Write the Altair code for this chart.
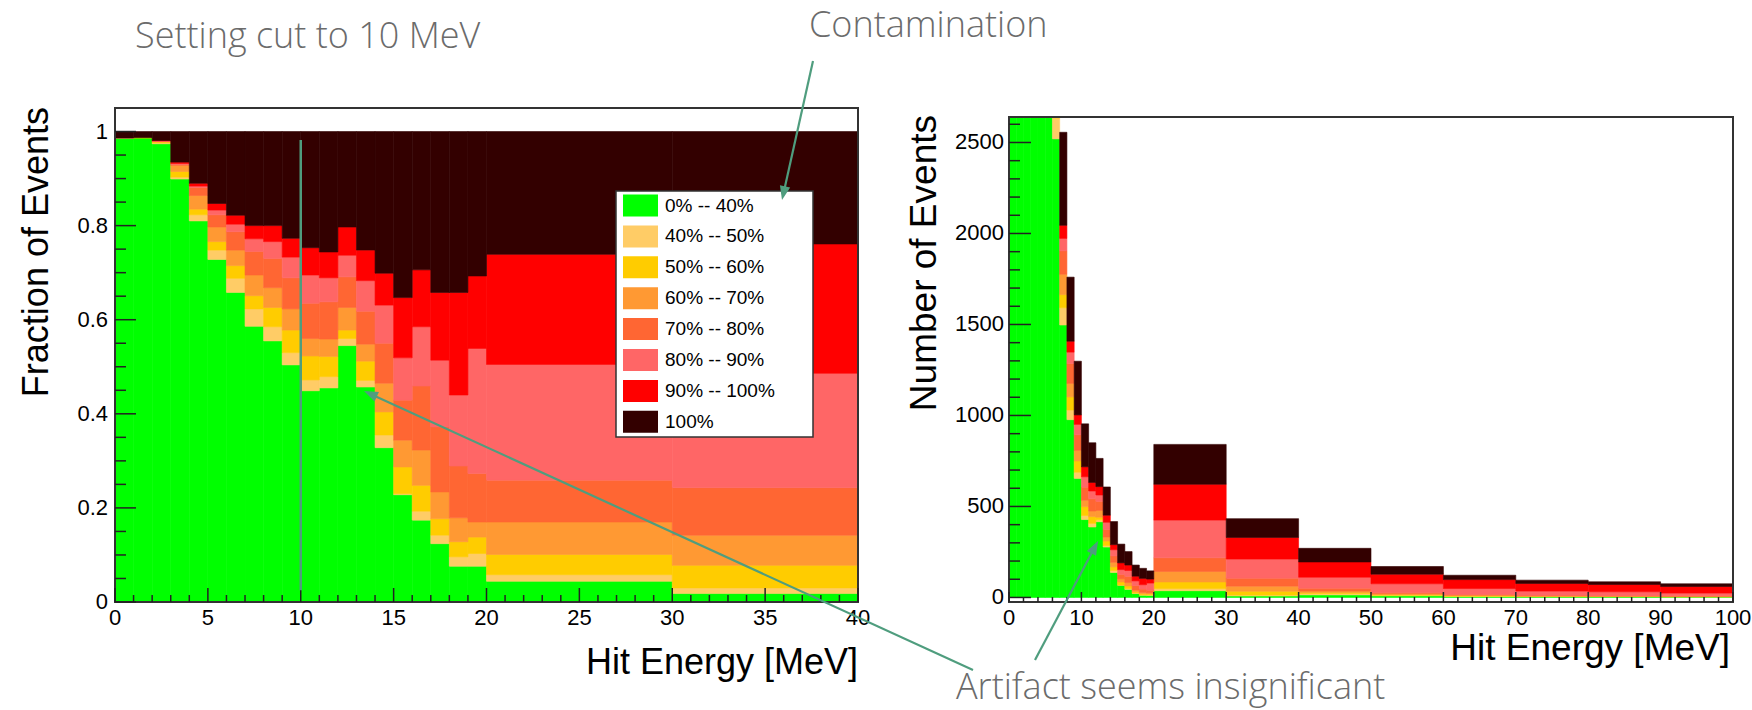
import altair as alt
import numpy as np
import pandas as pd

# Purity classes of the events and their fill colours (bottom of the stack first)
CATEGORIES = ["0% -- 40%", "40% -- 50%", "50% -- 60%", "60% -- 70%",
              "70% -- 80%", "80% -- 90%", "90% -- 100%", "100%"]
COLORS = ["#00ff00", "#ffcc66", "#ffcc00", "#ff9933",
          "#ff6633", "#ff6666", "#ff0000", "#330000"]

# ---------------- left: fraction of events per hit-energy bin ----------------
FRAC_EDGES = [0, 1, 2, 3, 4, 5, 6, 7, 8, 9, 10, 11, 12, 13, 14, 15, 16, 17, 18, 19, 20, 30, 40]
frac_p0_40 = [0.985, 0.986, 0.974, 0.899, 0.810, 0.728, 0.658, 0.586, 0.555, 0.504, 0.449,
              0.455, 0.545, 0.457, 0.328, 0.228, 0.174, 0.124, 0.076, 0.076, 0.044, 0.018]
frac_p40_50 = [0.001, 0.000, 0.002, 0.004, 0.013, 0.020, 0.030, 0.037, 0.030, 0.026, 0.023,
               0.024, 0.015, 0.014, 0.027, 0.002, 0.019, 0.018, 0.020, 0.027, 0.014, 0.012]
frac_p50_60 = [0.000, 0.001, 0.002, 0.012, 0.012, 0.018, 0.027, 0.028, 0.041, 0.048, 0.051,
               0.043, 0.018, 0.041, 0.049, 0.057, 0.055, 0.035, 0.032, 0.035, 0.043, 0.048]
frac_p60_70 = [0.000, 0.000, 0.001, 0.013, 0.029, 0.031, 0.033, 0.044, 0.042, 0.045, 0.037,
               0.037, 0.048, 0.036, 0.061, 0.057, 0.075, 0.057, 0.051, 0.032, 0.069, 0.064]
frac_p70_80 = [0.000, 0.000, 0.000, 0.002, 0.017, 0.026, 0.039, 0.050, 0.062, 0.066, 0.075,
               0.079, 0.065, 0.070, 0.085, 0.085, 0.136, 0.138, 0.110, 0.103, 0.089, 0.101]
frac_p80_90 = [0.000, 0.000, 0.001, 0.002, 0.003, 0.010, 0.016, 0.027, 0.036, 0.044, 0.060,
               0.051, 0.046, 0.065, 0.081, 0.090, 0.126, 0.142, 0.151, 0.266, 0.246, 0.243]
frac_p90_100 = [0.000, 0.000, 0.001, 0.003, 0.006, 0.014, 0.019, 0.028, 0.034, 0.040, 0.058,
                0.055, 0.060, 0.065, 0.068, 0.128, 0.121, 0.144, 0.218, 0.154, 0.234, 0.275]
frac_p100 = [0.014, 0.013, 0.019, 0.065, 0.110, 0.153, 0.178, 0.200, 0.200, 0.227, 0.247,
             0.256, 0.203, 0.252, 0.301, 0.353, 0.294, 0.342, 0.342, 0.307, 0.261, 0.239]

# ---------------- right: number of events per hit-energy bin ----------------
COUNT_EDGES = [0, 1, 2, 3, 4, 5, 6, 7, 8, 9, 10, 11, 12, 13, 14, 15, 16, 17, 18, 19, 20,
               30, 40, 50, 60, 70, 80, 90, 100]
cnt_p0_40 = [6698, 7099, 6818, 5754, 4536, 3422, 2520, 1497, 977, 654, 428, 387, 416, 277,
             137, 67, 44, 22, 12, 11, 37, 8, 14, 9, 5, 4, 4, 3]
cnt_p40_50 = [7, 0, 14, 26, 73, 94, 115, 95, 53, 34, 22, 20, 11, 8,
              11, 1, 5, 3, 3, 4, 12, 5, 8, 3, 2, 1, 1, 1]
cnt_p50_60 = [0, 7, 14, 77, 67, 85, 103, 72, 72, 62, 49, 37, 14, 25,
              20, 17, 14, 6, 5, 5, 36, 21, 5, 4, 3, 2, 1, 1]
cnt_p60_70 = [0, 0, 7, 83, 162, 146, 126, 112, 74, 58, 35, 31, 37, 22,
              25, 17, 19, 10, 8, 5, 58, 28, 9, 4, 3, 2, 2, 2]
cnt_p70_80 = [0, 0, 0, 13, 95, 122, 149, 128, 109, 86, 72, 67, 50, 42,
              35, 25, 34, 25, 18, 15, 75, 44, 15, 7, 3, 3, 2, 2]
cnt_p80_90 = [0, 0, 7, 13, 17, 47, 61, 69, 63, 57, 57, 43, 35, 39,
              34, 26, 32, 25, 24, 39, 207, 105, 60, 48, 33, 23, 21, 15]
cnt_p90_100 = [0, 0, 7, 19, 34, 66, 73, 72, 60, 52, 55, 47, 46, 39,
               28, 37, 30, 26, 35, 22, 197, 119, 84, 53, 49, 42, 40, 36]
cnt_p100 = [95, 94, 133, 416, 616, 719, 682, 511, 352, 295, 236, 218, 155, 155,
            127, 103, 74, 61, 55, 45, 219, 103, 75, 42, 24, 18, 15, 15]

CUT_MEV = 10

# axis tick positions and labels
LEFT_X_MAJOR = [0, 5, 10, 15, 20, 25, 30, 35, 40]
LEFT_X_MINOR = [v for v in range(0, 41) if v % 5]
LEFT_Y_MAJOR = [0, 0.2, 0.4, 0.6, 0.8, 1.0]
LEFT_Y_LABELS = ["0", "0.2", "0.4", "0.6", "0.8", "1"]
LEFT_Y_MINOR = [0.05, 0.1, 0.15, 0.25, 0.3, 0.35, 0.45, 0.5, 0.55, 0.65, 0.7, 0.75, 0.85, 0.9, 0.95]
RIGHT_X_MAJOR = [0, 10, 20, 30, 40, 50, 60, 70, 80, 90, 100]
RIGHT_X_MINOR = [v for v in range(0, 101, 2) if v % 10]
RIGHT_Y_MAJOR = [0, 500, 1000, 1500, 2000, 2500]
RIGHT_Y_MINOR = [v for v in range(0, 2601, 100) if v % 500]

# axis extents
LEFT_X_DOMAIN, LEFT_Y_DOMAIN = [0, 40], [0, 1.05]
RIGHT_X_DOMAIN, RIGHT_Y_DOMAIN = [0, 100], [-25, 2640]

# page geometry of the two frames (pixels)
LEFT_X_RANGE, LEFT_Y_RANGE = [115, 858], [602, 108]
RIGHT_X_RANGE, RIGHT_Y_RANGE = [1009, 1733], [602, 117]
W, H = 1752, 710

FONT = "Liberation Sans"
NOTE_FONT = "Open Sans"
NOTE_COLOR = "#6b6b6b"
ARROW_COLOR = "#4f9d7e"
INK = "#222222"


def long_table(edges, series):
    rows = []
    for order, (cat, values) in enumerate(zip(CATEGORIES, series)):
        for i, v in enumerate(values):
            if v > 0:
                rows.append({"lo": edges[i], "hi": edges[i + 1],
                             "category": cat, "order": order, "value": v})
    return pd.DataFrame(rows)


frac_df = long_table(FRAC_EDGES, [frac_p0_40, frac_p40_50, frac_p50_60, frac_p60_70,
                                  frac_p70_80, frac_p80_90, frac_p90_100, frac_p100])
cnt_df = long_table(COUNT_EDGES, [cnt_p0_40, cnt_p40_50, cnt_p50_60, cnt_p60_70,
                                  cnt_p70_80, cnt_p80_90, cnt_p90_100, cnt_p100])

color_scale = alt.Scale(domain=CATEGORIES, range=COLORS)
lx = alt.Scale(domain=LEFT_X_DOMAIN, range=LEFT_X_RANGE, nice=False, zero=False)
ly = alt.Scale(domain=LEFT_Y_DOMAIN, range=LEFT_Y_RANGE, nice=False, zero=False)
rx = alt.Scale(domain=RIGHT_X_DOMAIN, range=RIGHT_X_RANGE, nice=False, zero=False)
ry = alt.Scale(domain=RIGHT_Y_DOMAIN, range=RIGHT_Y_RANGE, nice=False, zero=False, clamp=True)


def stacked(df, xs, ys):
    return (
        alt.Chart(df)
        .transform_stack(stack="value", groupby=["lo"], as_=["y0", "y1"],
                         sort=[alt.SortField("order", order="ascending")])
        .mark_rect(strokeWidth=0.6)
        .encode(
            x=alt.X("lo:Q", scale=xs, axis=None),
            x2="hi:Q",
            y=alt.Y("y0:Q", scale=ys, axis=None),
            y2="y1:Q",
            color=alt.Color("category:N", scale=color_scale, legend=None),
            stroke=alt.Stroke("category:N", scale=color_scale, legend=None),
        )
    )


def frame(xs, ys, x_dom, y_dom):
    box = pd.DataFrame({"x0": [x_dom[0]], "x1": [x_dom[1]], "y0": [y_dom[0]], "y1": [y_dom[1]]})
    return alt.Chart(box).mark_rect(fill="transparent", stroke="#333333", strokeWidth=2).encode(
        x=alt.X("x0:Q", scale=xs, axis=None), x2="x1:Q",
        y=alt.Y("y0:Q", scale=ys, axis=None), y2="y1:Q")


def x_ticks(values, xs, base, length):
    return alt.Chart(pd.DataFrame({"v": values})).mark_rule(color=INK, strokeWidth=1.5).encode(
        x=alt.X("v:Q", scale=xs, axis=None), y=alt.value(base), y2=alt.value(base - length))


def y_ticks(values, ys, base, length):
    return alt.Chart(pd.DataFrame({"v": values})).mark_rule(color=INK, strokeWidth=1.5).encode(
        y=alt.Y("v:Q", scale=ys, axis=None), x=alt.value(base), x2=alt.value(base + length))


def x_labels(values, xs, baseline_y):
    df = pd.DataFrame({"v": values, "label": [f"{v:g}" for v in values]})
    return alt.Chart(df).mark_text(align="center", baseline="alphabetic", font=FONT,
                                   fontSize=22, color="black").encode(
        x=alt.X("v:Q", scale=xs, axis=None), y=alt.value(baseline_y), text="label:N")


def y_labels(values, labels, ys, right_x):
    df = pd.DataFrame({"v": values, "label": labels})
    return alt.Chart(df).mark_text(align="right", baseline="middle", font=FONT,
                                   fontSize=22, color="black").encode(
        y=alt.Y("v:Q", scale=ys, axis=None), x=alt.value(right_x), text="label:N")


# ---------------- left panel ----------------
cut_line = alt.Chart(pd.DataFrame({"x": [CUT_MEV], "y0": [0.025], "y1": [0.982]})).mark_rule(
    color=ARROW_COLOR, strokeWidth=2.5).encode(
    x=alt.X("x:Q", scale=lx, axis=None), y=alt.Y("y0:Q", scale=ly, axis=None), y2="y1:Q")

left_panel = alt.layer(
    stacked(frac_df, lx, ly),
    frame(lx, ly, LEFT_X_DOMAIN, LEFT_Y_DOMAIN),
    x_ticks(LEFT_X_MAJOR, lx, LEFT_Y_RANGE[0], 14),
    x_ticks(LEFT_X_MINOR, lx, LEFT_Y_RANGE[0], 7),
    y_ticks(LEFT_Y_MAJOR, ly, LEFT_X_RANGE[0], 21),
    y_ticks(LEFT_Y_MINOR, ly, LEFT_X_RANGE[0], 11),
    x_labels(LEFT_X_MAJOR, lx, 625),
    y_labels(LEFT_Y_MAJOR, LEFT_Y_LABELS, ly, 108),
    cut_line,
)

# ---------------- right panel ----------------
right_panel = alt.layer(
    stacked(cnt_df, rx, ry),
    frame(rx, ry, RIGHT_X_DOMAIN, RIGHT_Y_DOMAIN),
    x_ticks(RIGHT_X_MAJOR, rx, RIGHT_Y_RANGE[0], 10),
    x_ticks(RIGHT_X_MINOR, rx, RIGHT_Y_RANGE[0], 5),
    y_ticks(RIGHT_Y_MAJOR, ry, RIGHT_X_RANGE[0], 22),
    y_ticks(RIGHT_Y_MINOR, ry, RIGHT_X_RANGE[0], 11),
    x_labels(RIGHT_X_MAJOR, rx, 625),
    y_labels(RIGHT_Y_MAJOR, [str(v) for v in RIGHT_Y_MAJOR], ry, 1004),
)

# ---------------- axis titles ----------------
titles = pd.DataFrame({
    "text": ["Hit Energy [MeV]", "Hit Energy [MeV]", "Fraction of Events", "Number of Events"],
    "x": [858, 1730, 48, 936],
    "y": [674, 660, 107, 115],
    "angle": [0, 0, 270, 270],
    "size": [36, 37, 36, 37],
})
axis_titles = alt.Chart(titles).mark_text(
    align="right", baseline="alphabetic", font=FONT, color="black").encode(
    x=alt.X("x:Q", scale=None), y=alt.Y("y:Q", scale=None), text="text:N",
    angle=alt.Angle("angle:Q", scale=None), size=alt.Size("size:Q", scale=None))

# ---------------- legend box (pixel layout) ----------------
LEG_LEFT, LEG_TOP, LEG_RIGHT, LEG_BOTTOM = 616, 191, 813, 437
ROW0, ROW_STEP = 205.5, 30.9
leg = pd.DataFrame({"category": CATEGORIES, "row": range(len(CATEGORIES))})
leg["cy"] = ROW0 + ROW_STEP * leg["row"]
leg["y0"] = leg["cy"] - 11
leg["y1"] = leg["cy"] + 11
leg["x0"] = 623
leg["x1"] = 658
leg["tx"] = 665

legend_box = alt.Chart(pd.DataFrame({"x0": [LEG_LEFT], "x1": [LEG_RIGHT],
                                     "y0": [LEG_TOP], "y1": [LEG_BOTTOM]})).mark_rect(
    fill="white", stroke="#333333", strokeWidth=1.5).encode(
    x=alt.X("x0:Q", scale=None), x2="x1:Q", y=alt.Y("y0:Q", scale=None), y2="y1:Q")
legend_swatches = alt.Chart(leg).mark_rect().encode(
    x=alt.X("x0:Q", scale=None), x2="x1:Q", y=alt.Y("y0:Q", scale=None), y2="y1:Q",
    color=alt.Color("category:N", scale=color_scale, legend=None))
legend_labels = alt.Chart(leg).mark_text(
    align="left", baseline="middle", font=FONT, fontSize=19, color="black").encode(
    x=alt.X("tx:Q", scale=None), y=alt.Y("cy:Q", scale=None), text="category:N")

# ---------------- annotations ----------------
arrows = pd.DataFrame({
    "x": [813, 973, 1035], "y": [61, 670, 660],
    "tip_x": [782, 364, 1098], "tip_y": [200, 391, 541],
})
HEAD = 7.0
dx = arrows["tip_x"] - arrows["x"]
dy = arrows["tip_y"] - arrows["y"]
norm = np.hypot(dx, dy)
arrows["hx"] = arrows["tip_x"] - dx / norm * HEAD
arrows["hy"] = arrows["tip_y"] - dy / norm * HEAD
arrows["angle"] = (np.degrees(np.arctan2(dx, -dy)) + 360) % 360

arrow_lines = alt.Chart(arrows).mark_rule(color=ARROW_COLOR, strokeWidth=2.2).encode(
    x=alt.X("x:Q", scale=None), y=alt.Y("y:Q", scale=None),
    x2="hx:Q", y2="hy:Q")
arrow_heads = alt.Chart(arrows).mark_point(
    shape="M0,-1L-0.75,1L0.75,1Z", size=(2 * HEAD) ** 2, filled=True,
    color=ARROW_COLOR, opacity=1, strokeWidth=0).encode(
    x=alt.X("hx:Q", scale=None), y=alt.Y("hy:Q", scale=None),
    angle=alt.Angle("angle:Q", scale=None))

notes = pd.DataFrame({
    "text": ["Setting cut to 10 MeV", "Contamination", "Artifact seems insignificant"],
    "x": [135, 809, 956], "y": [48, 37, 699],
})
note_text = alt.Chart(notes).mark_text(
    align="left", baseline="alphabetic", font=NOTE_FONT, fontSize=36, fontWeight=300,
    color=NOTE_COLOR).encode(
    x=alt.X("x:Q", scale=None), y=alt.Y("y:Q", scale=None), text="text:N")

overlay = alt.layer(axis_titles, legend_box, legend_swatches, legend_labels,
                    arrow_lines, arrow_heads, note_text)

chart = (
    alt.layer(left_panel, right_panel, overlay)
    .resolve_scale(x="independent", y="independent")
    .properties(width=W, height=H, autosize=alt.AutoSizeParams(type="none"), padding=0,
                background="white")
    .configure_view(strokeWidth=0)
)

chart.save("out.html", embed_options={"renderer": "svg", "actions": False})
